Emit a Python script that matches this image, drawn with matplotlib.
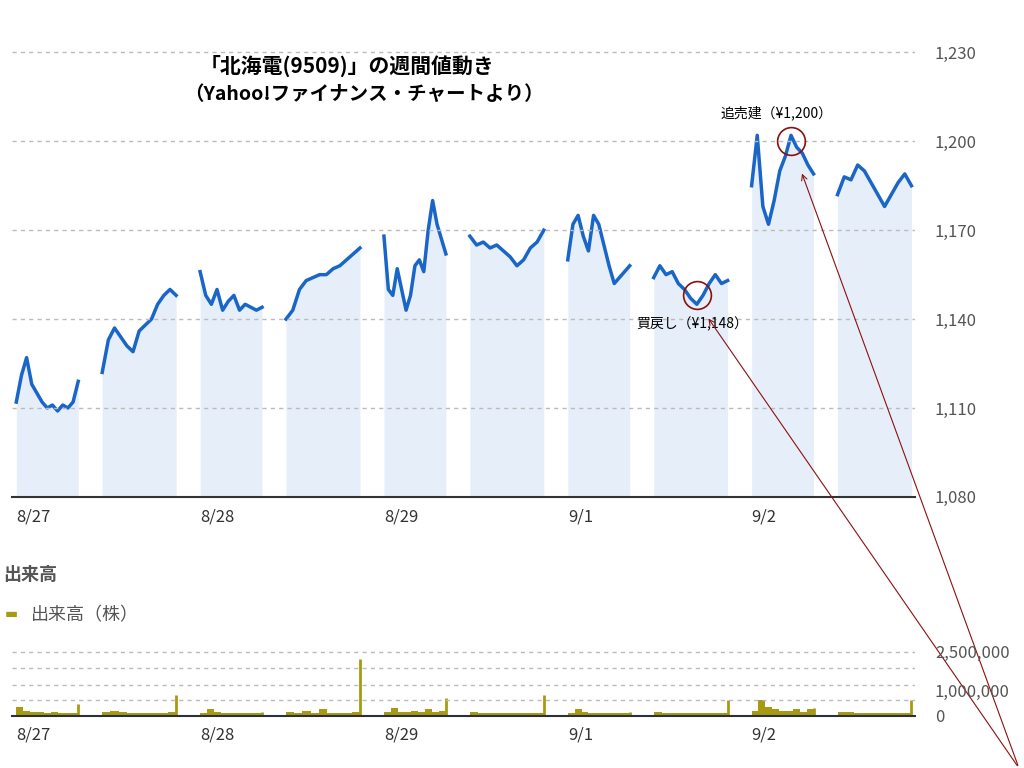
import numpy as np
import matplotlib
matplotlib.use("Agg")
import matplotlib.pyplot as plt

plt.rcParams["font.family"] = ["Noto Sans CJK JP", "DejaVu Sans"]

# price per half-day session (8/27 AM ... 9/2 PM)
price_sessions = [
    [1112, 1121, 1127, 1118, 1115, 1112, 1110, 1111, 1109, 1111, 1110, 1112, 1119],
    [1122, 1133, 1137, 1134, 1131, 1129, 1136, 1138, 1140, 1145, 1148, 1150, 1148],
    [1156, 1148, 1145, 1150, 1143, 1146, 1148, 1143, 1145, 1144, 1143, 1144],
    [1140, 1143, 1150, 1153, 1154, 1155, 1155, 1157, 1158, 1160, 1162, 1164],
    [1168, 1150, 1148, 1157, 1150, 1143, 1148, 1158, 1160, 1156, 1170, 1180, 1172, 1167, 1162],
    [1168, 1165, 1166, 1164, 1165, 1163, 1161, 1158, 1160, 1164, 1166, 1170],
    [1160, 1172, 1175, 1168, 1163, 1175, 1172, 1165, 1158, 1152, 1154, 1156, 1158],
    [1154, 1158, 1155, 1156, 1152, 1150, 1147, 1145, 1148, 1152, 1155, 1152, 1153],
    [1185, 1202, 1178, 1172, 1180, 1190, 1195, 1202, 1198, 1196, 1192, 1189],
    [1182, 1188, 1187, 1192, 1190, 1186, 1182, 1178, 1182, 1186, 1189, 1185],
]
# volume per session (shares)
volume_sessions = [
    [350000, 200000, 150000, 150000, 120000, 130000, 120000, 110000, 120000, 450000],
    [150000, 200000, 150000, 120000, 110000, 100000, 110000, 120000, 150000, 800000],
    [120000, 250000, 150000, 120000, 110000, 120000, 100000, 110000, 110000, 150000],
    [150000, 120000, 200000, 110000, 250000, 120000, 110000, 120000, 130000, 2200000],
    [150000, 300000, 150000, 150000, 200000, 150000, 250000, 150000, 200000, 700000],
    [150000, 120000, 110000, 100000, 110000, 100000, 110000, 120000, 110000, 800000],
    [120000, 250000, 130000, 120000, 110000, 120000, 110000, 100000, 110000, 150000],
    [150000, 120000, 110000, 100000, 110000, 100000, 110000, 100000, 110000, 600000],
    [200000, 600000, 350000, 250000, 200000, 180000, 250000, 150000, 250000, 300000],
    [150000, 130000, 110000, 100000, 110000, 100000, 110000, 100000, 120000, 600000],
]
day_labels = ["8/27", "8/28", "8/29", "9/1", "9/2"]
price_ticks = [1080, 1110, 1140, 1170, 1200, 1230]
vol_ticks = [0, 1000000, 2500000]
vol_grid = [600000, 1200000, 1850000, 2500000]
buy_back = 1148
short_sell = 1200

# session lengths (AM / PM) and gap in time units
sess_len = [62, 74] * 5
gap = 24
starts = np.concatenate([[0], np.cumsum(np.array(sess_len) + gap)[:-1]])

fig = plt.figure(figsize=(10.24, 7.68), dpi=100)
ax = fig.add_axes([0.012, 0.353, 0.882, 0.6])
axv = fig.add_axes([0.012, 0.068, 0.882, 0.092])

line_c = "#1a66c8"
fill_c = "#e6eff9"
for s, n, p in zip(starts, sess_len, price_sessions):
    x = np.linspace(s, s + n, len(p))
    ax.fill_between(x, 1080, p, color=fill_c, lw=0)
    ax.plot(x, p, color=line_c, lw=2.5)

ax.set_xlim(-4, 900)
ax.set_ylim(1080, 1235.5)
ax.yaxis.tick_right()
ax.set_yticks(price_ticks)
ax.set_yticklabels([f"{v:,}" for v in price_ticks], color="#555555", fontsize=12)
ax.tick_params(axis="y", length=0, pad=14)
ax.set_xticks(starts[::2])
ax.set_xticklabels(day_labels, fontsize=12, color="#333333")
ax.tick_params(axis="x", length=0, pad=8)
for lab in ax.get_xticklabels():
    lab.set_horizontalalignment("left")
for v in price_ticks[1:]:
    ax.axhline(v, color="#bbbbbb", ls=(0, (3, 3)), lw=1)
for sp in ["top", "left", "right"]:
    ax.spines[sp].set_visible(False)
ax.spines["bottom"].set_color("#333333")
ax.spines["bottom"].set_linewidth(1.5)

# markers and annotations
x_bb = starts[7] + sess_len[7] * 7 / 12
x_ss = starts[8] + sess_len[8] * 7 / 11
ax.plot(x_bb, buy_back, "o", ms=20, mfc="none", mec="#8b1010", mew=1.2)
ax.plot(x_ss, short_sell, "o", ms=20, mfc="none", mec="#8b1010", mew=1.2)
ax.text(x_bb - 5, 1137, f"買戻し（¥{buy_back:,}）", ha="center", fontsize=10)
ax.text(x_ss - 15, 1208, f"追売建（¥{short_sell:,}）", ha="center", fontsize=10)
ax.annotate("", xy=(x_bb + 10, 1141), xycoords="data", xytext=(0.995, 0.0),
            textcoords="figure fraction",
            arrowprops=dict(arrowstyle="->", color="#8b1010", lw=0.8), annotation_clip=False)
ax.annotate("", xy=(x_ss + 10, 1190), xycoords="data", xytext=(0.995, 0.0),
            textcoords="figure fraction",
            arrowprops=dict(arrowstyle="->", color="#8b1010", lw=0.8), annotation_clip=False)

fig.text(0.195, 0.905, "「北海電(9509)」の週間値動き", fontsize=15, fontweight="bold")
fig.text(0.18, 0.87, "（Yahoo!ファイナンス・チャートより）", fontsize=14, fontweight="bold")

# volume
vol_c = "#a89a10"
for s, n, v in zip(starts, sess_len, volume_sessions):
    x = np.linspace(s, s + n, len(v))
    axv.fill_between(x, 0, v, color=vol_c, lw=0, step="post")
    axv.vlines(x[-1], 0, v[-1], color=vol_c, lw=2)
axv.set_xlim(-4, 900)
axv.set_ylim(0, 2750000)
axv.yaxis.tick_right()
axv.set_yticks(vol_ticks)
axv.set_yticklabels([f"{v:,}" for v in vol_ticks], color="#555555", fontsize=12)
axv.tick_params(axis="y", length=0, pad=14)
for v in vol_grid:
    axv.axhline(v, color="#bbbbbb", ls=(0, (3, 3)), lw=1)
axv.set_xticks(starts[::2])
axv.set_xticklabels(day_labels, fontsize=12, color="#333333")
axv.tick_params(axis="x", length=0, pad=8)
for lab in axv.get_xticklabels():
    lab.set_horizontalalignment("left")
for sp in ["top", "left", "right"]:
    axv.spines[sp].set_visible(False)
axv.spines["bottom"].set_color("#2a3040")
axv.spines["bottom"].set_linewidth(1.5)

fig.text(0.003, 0.245, "出来高", fontsize=13, fontweight="bold", color="#555555")
fig.text(0.005, 0.195, "▬", fontsize=10, color=vol_c)
fig.text(0.03, 0.193, "出来高（株）", fontsize=13, color="#555555")

fig.savefig("out.png", dpi=100)
